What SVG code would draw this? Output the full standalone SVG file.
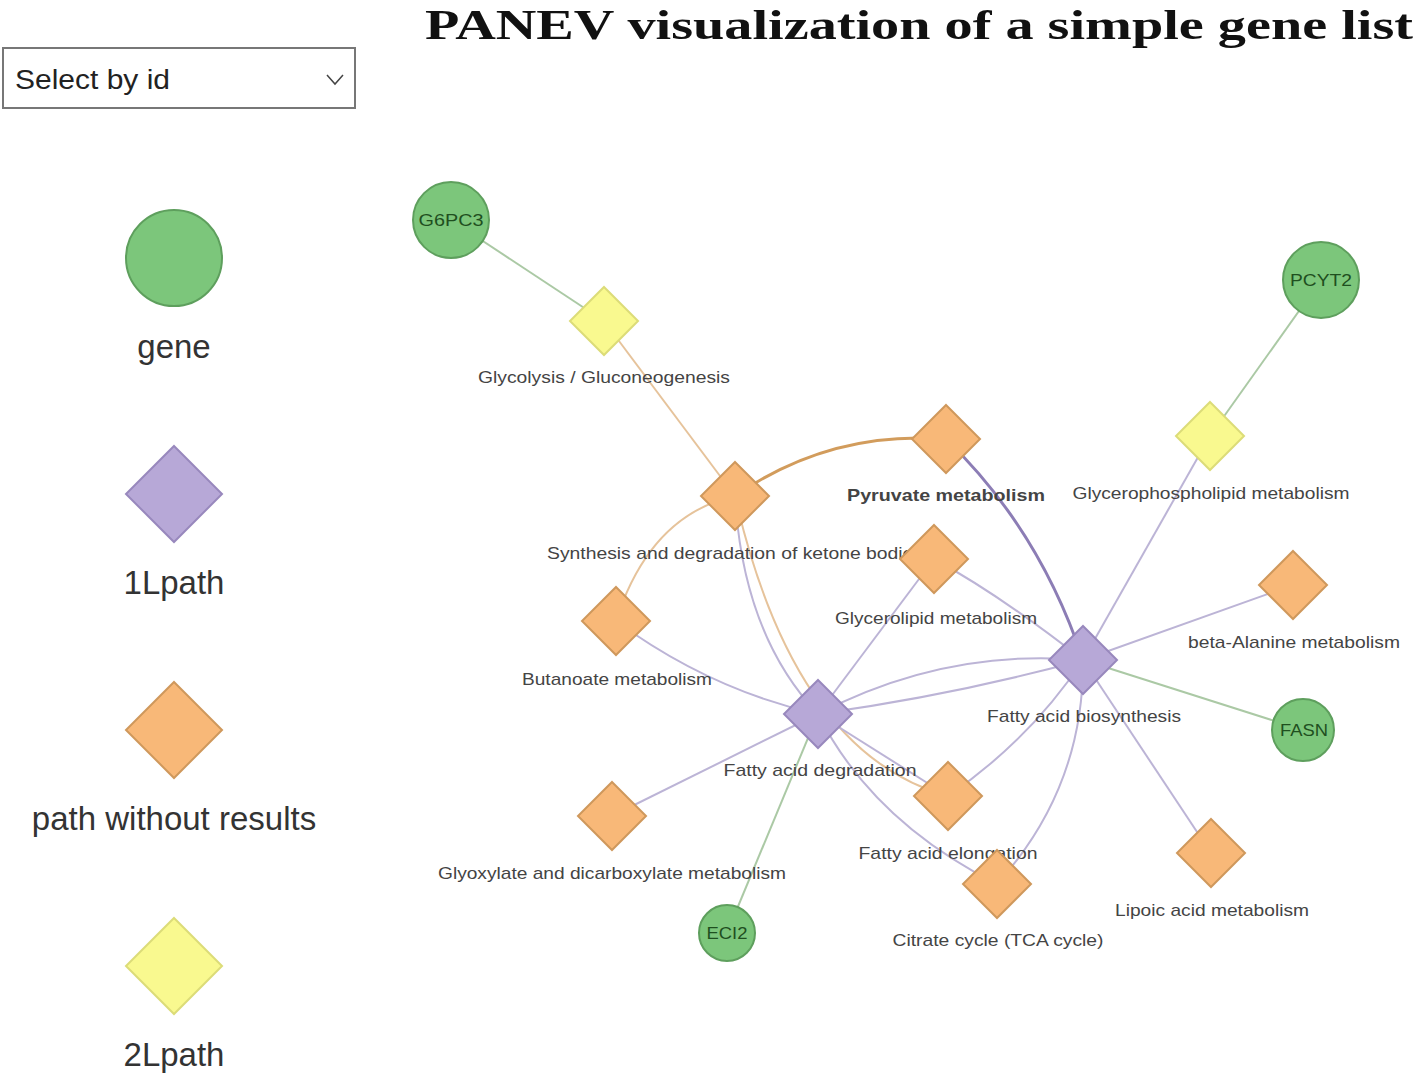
<svg xmlns="http://www.w3.org/2000/svg" xmlns:xlink="http://www.w3.org/1999/xlink" width="1418" height="1077" viewBox="0 0 1418 1077">
<style>
  .title{font-family:"Liberation Serif",serif;font-weight:bold;font-size:42px;fill:#111}
  .sel{font-family:"Liberation Sans",Arial,sans-serif;font-size:27px;fill:#222}
  .leg{font-family:"Liberation Sans",Arial,sans-serif;font-size:33px;fill:#333;text-anchor:middle}
  .lbl{font-family:"Liberation Sans",Arial,sans-serif;font-size:17px;fill:#444;text-anchor:middle}
  .glbl{font-family:"Liberation Sans",Arial,sans-serif;font-size:17px;fill:#1f4f1f;text-anchor:middle}
  .gene{fill:#7cc67b;stroke:#5e9f5d;stroke-width:2}
  .p1{fill:#b7a8d7;stroke:#9888bd;stroke-width:2}
  .p0{fill:#f8b878;stroke:#cf985c;stroke-width:2}
  .p2{fill:#f9f98f;stroke:#dcdc78;stroke-width:2}
  .e{fill:none;stroke-width:2}
  .eg{stroke:#abc9a5}
  .el{stroke:#bcb4d6}
  .eo{stroke:#e6c39b}
  .eod{stroke:#d29c5c;stroke-width:3}
  .epd{stroke:#8c7db5;stroke-width:3}
</style>
<defs>
  <polygon id="dia" points="0,-34 34,0 0,34 -34,0"/>
  <polygon id="diaL" points="0,-48 48,0 0,48 -48,0"/>
</defs>
<rect width="1418" height="1077" fill="#fff"/>
<text class="title" x="425" y="39" textLength="988" lengthAdjust="spacingAndGlyphs">PANEV visualization of a simple gene list</text>
<g id="select">
  <rect x="3" y="48" width="352" height="60" fill="#fff" stroke="#777" stroke-width="2"/>
  <text class="sel" x="15" y="89" textLength="155" lengthAdjust="spacingAndGlyphs">Select by id</text>
  <polyline points="327,75 335,84 343,75" fill="none" stroke="#444" stroke-width="1.5"/>
</g>
<g id="legend">
  <g id="leg-gene"><circle class="gene" cx="174" cy="258" r="48"/><text class="leg" x="174" y="358">gene</text></g>
  <g id="leg-1L"><use xlink:href="#diaL" class="p1" x="174" y="494"/><text class="leg" x="174" y="594">1Lpath</text></g>
  <g id="leg-0"><use xlink:href="#diaL" class="p0" x="174" y="730"/><text class="leg" x="174" y="830">path without results</text></g>
  <g id="leg-2L"><use xlink:href="#diaL" class="p2" x="174" y="966"/><text class="leg" x="174" y="1066">2Lpath</text></g>
</g>
<g id="edges">
  <path class="e eg" d="M451,220 L604,321"/>
  <path class="e eo" d="M604,321 L735,496"/>
  <path class="e eod" d="M735,496 Q830,430 946,439"/>
  <path class="e epd" d="M946,439 Q1040,530 1083,660"/>
  <path class="e eo" d="M735,496 Q650,515 616,621"/>
  <path class="e el" d="M735,496 Q743,635 818,714"/>
  <path class="e eo" d="M735,496 Q794,754 948,796"/>
  <path class="e el" d="M616,621 Q710,690 818,714"/>
  <path class="e el" d="M612,816 L818,714"/>
  <path class="e eg" d="M727,933 L818,714"/>
  <path class="e el" d="M934,559 L818,714"/>
  <path class="e el" d="M818,714 Q945,648 1083,660"/>
  <path class="e el" d="M818,714 Q955,695 1083,660"/>
  <path class="e el" d="M818,714 L948,796"/>
  <path class="e el" d="M818,714 Q872,821 997,884"/>
  <path class="e el" d="M1083,660 Q1030,740 948,796"/>
  <path class="e el" d="M1083,660 Q1084,788 997,884"/>
  <path class="e el" d="M1083,660 Q1000,595 934,559"/>
  <path class="e el" d="M1083,660 L1210,436"/>
  <path class="e el" d="M1083,660 L1293,585"/>
  <path class="e eg" d="M1083,660 L1303,730"/>
  <path class="e el" d="M1083,660 L1211,853"/>
  <path class="e eg" d="M1321,280 L1210,436"/>
</g>
<g id="n-G6PC3"><circle class="gene" cx="451" cy="220" r="38"/><text class="glbl" x="451" y="226" textLength="65" lengthAdjust="spacingAndGlyphs">G6PC3</text></g>
<g id="n-glycolysis"><use xlink:href="#dia" class="p2" x="604" y="321"/><text class="lbl" x="604" y="383" textLength="252" lengthAdjust="spacingAndGlyphs">Glycolysis / Gluconeogenesis</text></g>
<g id="n-PCYT2"><circle class="gene" cx="1321" cy="280" r="38"/><text class="glbl" x="1321" y="286" textLength="62" lengthAdjust="spacingAndGlyphs">PCYT2</text></g>
<g id="n-glycerophospholipid"><use xlink:href="#dia" class="p2" x="1210" y="436"/><text class="lbl" x="1211" y="499" textLength="277" lengthAdjust="spacingAndGlyphs">Glycerophospholipid metabolism</text></g>
<g id="n-pyruvate"><use xlink:href="#dia" class="p0" x="946" y="439" stroke="#c08a4e" stroke-width="3"/><text class="lbl" x="946" y="501" font-weight="bold" textLength="198" lengthAdjust="spacingAndGlyphs">Pyruvate metabolism</text></g>
<g id="n-ketone"><use xlink:href="#dia" class="p0" x="735" y="496"/><text class="lbl" x="735" y="559" textLength="376" lengthAdjust="spacingAndGlyphs">Synthesis and degradation of ketone bodies</text></g>
<g id="n-glycerolipid"><use xlink:href="#dia" class="p0" x="934" y="559"/><text class="lbl" x="936" y="624" textLength="202" lengthAdjust="spacingAndGlyphs">Glycerolipid metabolism</text></g>
<g id="n-butanoate"><use xlink:href="#dia" class="p0" x="616" y="621"/><text class="lbl" x="617" y="685" textLength="190" lengthAdjust="spacingAndGlyphs">Butanoate metabolism</text></g>
<g id="n-beta-alanine"><use xlink:href="#dia" class="p0" x="1293" y="585"/><text class="lbl" x="1294" y="648" textLength="212" lengthAdjust="spacingAndGlyphs">beta-Alanine metabolism</text></g>
<g id="n-FAB"><use xlink:href="#dia" class="p1" x="1083" y="660"/><text class="lbl" x="1084" y="722" textLength="194" lengthAdjust="spacingAndGlyphs">Fatty acid biosynthesis</text></g>
<g id="n-FASN"><circle class="gene" cx="1303" cy="730" r="31"/><text class="glbl" x="1304" y="736" textLength="48" lengthAdjust="spacingAndGlyphs">FASN</text></g>
<g id="n-FAD"><use xlink:href="#dia" class="p1" x="818" y="714"/><text class="lbl" x="820" y="776" textLength="193" lengthAdjust="spacingAndGlyphs">Fatty acid degradation</text></g>
<g id="n-glyoxylate"><use xlink:href="#dia" class="p0" x="612" y="816"/><text class="lbl" x="612" y="879" textLength="348" lengthAdjust="spacingAndGlyphs">Glyoxylate and dicarboxylate metabolism</text></g>
<g id="n-elongation"><use xlink:href="#dia" class="p0" x="948" y="796"/><text class="lbl" x="948" y="859" textLength="179" lengthAdjust="spacingAndGlyphs">Fatty acid elongation</text></g>
<g id="n-citrate"><use xlink:href="#dia" class="p0" x="997" y="884"/><text class="lbl" x="998" y="946" textLength="211" lengthAdjust="spacingAndGlyphs">Citrate cycle (TCA cycle)</text></g>
<g id="n-lipoic"><use xlink:href="#dia" class="p0" x="1211" y="853"/><text class="lbl" x="1212" y="916" textLength="194" lengthAdjust="spacingAndGlyphs">Lipoic acid metabolism</text></g>
<g id="n-ECI2"><circle class="gene" cx="727" cy="933" r="28"/><text class="glbl" x="727" y="939" textLength="41" lengthAdjust="spacingAndGlyphs">ECI2</text></g>
</svg>
